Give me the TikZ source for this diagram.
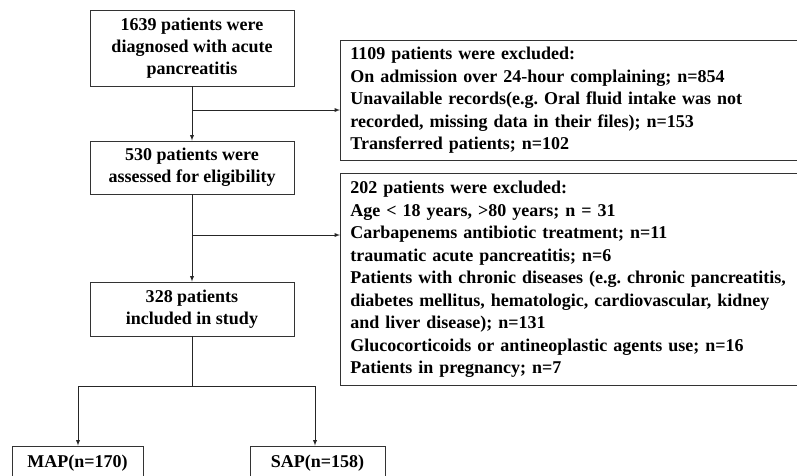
\documentclass[tikz,border=0pt]{standalone}
\usepackage{fontspec}
\setmainfont{Liberation Serif}
\usepackage{tikz}
\usetikzlibrary{positioning, arrows}
\frenchspacing

\tikzset{
  flowbox/.style={draw=black!80, line width=0.9pt, align=center, inner sep=2pt,
    font=\fontsize{18}{22}\selectfont\bfseries},
  exclbox/.style={draw=black!80, line width=0.9pt, align=left, anchor=north west,
    inner xsep=9pt, inner ysep=5pt, font=\fontsize{18}{22.5}\selectfont\bfseries},
  flowline/.style={draw=black!85, line width=0.9pt},
  flowarrow/.style={flowline, -latex}
}

\begin{document}
\begin{tikzpicture}[x=1pt,y=1pt,yscale=-1,xscale=1]
\useasboundingbox (0,0) rectangle (797,475);
\clip (0,0) rectangle (797,475);

% main column
\node[flowbox, minimum width=204pt, minimum height=76pt] (diag) at (192,48)
  {1639 patients were\\diagnosed with acute\\pancreatitis};
\node[flowbox, minimum width=204pt, minimum height=53pt] (elig) at (192,167.5)
  {530 patients were\\assessed for eligibility};
\node[flowbox, minimum width=204pt, minimum height=54pt] (incl) at (192,309)
  {328 patients\\included in study};

% exclusion boxes
\node[exclbox, minimum width=480pt, minimum height=120pt, text width=460pt] (excl1) at (340,40)
  {1109 patients were excluded:\\
   On admission over 24-hour complaining; n=854\\
   Unavailable records(e.g. Oral fluid intake was not\\
   recorded, missing data in their files); n=153\\
   Transferred patients; n=102};
\node[exclbox, minimum width=480pt, minimum height=212pt, text width=460pt] (excl2) at (340,173)
  {202 patients were excluded:\\
   Age < 18 years, >80 years; n = 31\\
   Carbapenems antibiotic treatment; n=11\\
   traumatic acute pancreatitis; n=6\\
   Patients with chronic diseases (e.g. chronic pancreatitis,\\
   diabetes mellitus, hematologic, cardiovascular, kidney\\
   and liver disease); n=131\\
   Glucocorticoids or antineoplastic agents use; n=16\\
   Patients in pregnancy; n=7};

% groups
\node[flowbox, minimum width=131pt, minimum height=34pt] (map) at (77.5,463) {MAP(n=170)};
\node[flowbox, minimum width=135pt, minimum height=34pt] (sap) at (317.5,463) {SAP(n=158)};

% connectors
\draw[flowarrow] (diag) -- (elig);
\draw[flowarrow] (elig) -- (incl);
\coordinate (br1) at (192,110);
\coordinate (br2) at (192,235);
\draw[flowarrow] (br1) -- (br1 -| excl1.west);
\draw[flowarrow] (br2) -- (br2 -| excl2.west);

\coordinate (split) at (192,386);
\coordinate (splitl) at (78,386);
\coordinate (splitr) at (315,386);
\draw[flowline] (incl.south) -- (split);
\draw[flowline] (splitl) -- (splitr);
\draw[flowarrow] (splitl) -- (splitl |- map.north);
\draw[flowarrow] (splitr) -- (splitr |- sap.north);

\end{tikzpicture}
\end{document}
